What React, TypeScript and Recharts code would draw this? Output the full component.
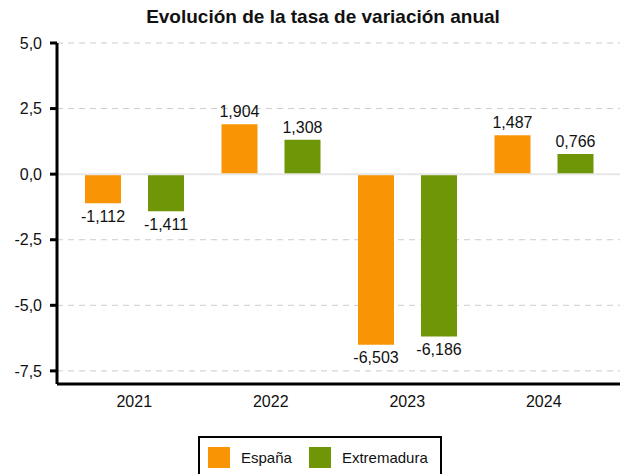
import { BarChart, Bar, XAxis, YAxis, CartesianGrid, Legend, LabelList, ReferenceLine } from 'recharts';

const years = ['2021', '2022', '2023', '2024'];
const espana = [-1.112, 1.904, -6.503, 1.487];
const extremadura = [-1.411, 1.308, -6.186, 0.766];
const yTicks = [5, 2.5, 0, -2.5, -5, -7.5];

const data = years.map((year, i) => ({ year, espana: espana[i], extremadura: extremadura[i] }));

const FONT = '"Liberation Sans", Arial, sans-serif';
const ORANGE = '#f99504';
const GREEN = '#6e9606';

const fmt = (v: number, d: number) => v.toFixed(d).replace('.', ',');

// legend drawn from the series payload, boxed like the original
function LegendBox(props: any) {
  const items = props.payload || [];
  return (
    <div
      style={{
        border: '2px solid #000',
        display: 'flex',
        alignItems: 'center',
        padding: '9px 8px 6px 8px',
        fontFamily: FONT,
        fontSize: 15,
        color: '#111',
        boxSizing: 'border-box',
        height: 40,
      }}
    >
      {items.map((it: any) => (
        <div key={it.value} style={{ display: 'flex', alignItems: 'center', marginRight: 17 }}>
          <span style={{ width: 22, height: 21, background: it.color, display: 'inline-block', marginRight: 11 }} />
          <span>{it.value}</span>
        </div>
      ))}
    </div>
  );
}

export default function App() {
  return (
    <div style={{ position: 'absolute', left: 0, top: 0, width: 629, height: 474, background: '#fff' }}>
      <div
        style={{
          position: 'absolute',
          left: 0,
          width: 646,
          top: 6,
          textAlign: 'center',
          fontFamily: FONT,
          fontWeight: 'bold',
          fontSize: 19,
          color: '#111',
        }}
      >
        Evolución de la tasa de variación anual
      </div>
      <BarChart
        width={629}
        height={474}
        data={data}
        margin={{ top: 43, right: 9, bottom: 60, left: 0 }}
        barGap={27}
        barSize={36}
      >
        <CartesianGrid vertical={false} stroke="#cccccc" strokeDasharray="6 5" />
        <ReferenceLine y={0} stroke="#e8e8e8" strokeWidth={2} />
        <XAxis
          dataKey="year"
          height={30}
          padding={{ left: 9, right: 8 }}
          axisLine={{ stroke: '#000', strokeWidth: 3 }}
          tickLine={false}
          tickSize={0}
          tickMargin={12}
          tick={{ fill: '#111', fontSize: 16, fontFamily: FONT }}
        />
        <YAxis
          width={57}
          domain={[-8, 5]}
          ticks={yTicks}
          interval={0}
          tickFormatter={(v: number) => fmt(v, 1)}
          axisLine={{ stroke: '#000', strokeWidth: 3 }}
          tickLine={{ stroke: '#000', strokeWidth: 3 }}
          tickSize={7}
          tickMargin={8}
          tick={{ fill: '#111', fontSize: 16, fontFamily: FONT }}
        />
        <Legend
          layout="horizontal"
          verticalAlign="middle"
          align="center"
          content={<LegendBox />}
          wrapperStyle={{ left: 198, top: 436, width: 244 }}
        />
        <Bar dataKey="espana" name="España" fill={ORANGE} isAnimationActive={false}>
          <LabelList
            dataKey="espana"
            position="top"
            offset={7}
            formatter={(v: any) => fmt(Number(v), 3)}
            style={{ fill: '#111', fontSize: 16, fontFamily: FONT }}
          />
        </Bar>
        <Bar dataKey="extremadura" name="Extremadura" fill={GREEN} isAnimationActive={false}>
          <LabelList
            dataKey="extremadura"
            position="top"
            offset={7}
            formatter={(v: any) => fmt(Number(v), 3)}
            style={{ fill: '#111', fontSize: 16, fontFamily: FONT }}
          />
        </Bar>
      </BarChart>
    </div>
  );
}
